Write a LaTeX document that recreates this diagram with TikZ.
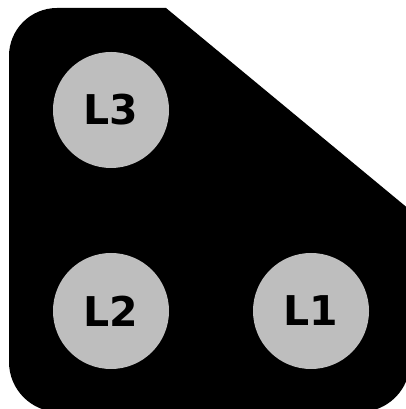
\documentclass[tikz,border=0pt]{standalone}
\usepackage{fontspec}
\setmainfont{DejaVu Sans}
\definecolor{disc}{RGB}{190,190,190}
\tikzset{
  lamp/.style={circle, fill=disc, minimum size=116pt, inner sep=0pt,
    font=\fontsize{41}{41}\selectfont\bfseries, text=black}
}
\begin{document}
\begin{tikzpicture}[x=1pt,y=1pt]
\useasboundingbox (0,0) rectangle (406,409);
\fill[black] (166,401) -- (410,199) -- (410,47)
  arc[start angle=0,end angle=-90,radius=50] -- (59,-3)
  arc[start angle=270,end angle=180,radius=50] -- (9,353)
  arc[start angle=180,end angle=90,radius=48] -- cycle;
\node[lamp] (L3) at (111,299) {L3};
\node[lamp] (L2) at (111,98) {L2};
\node[lamp] (L1) at (311,98) {L1};
\end{tikzpicture}
\end{document}
